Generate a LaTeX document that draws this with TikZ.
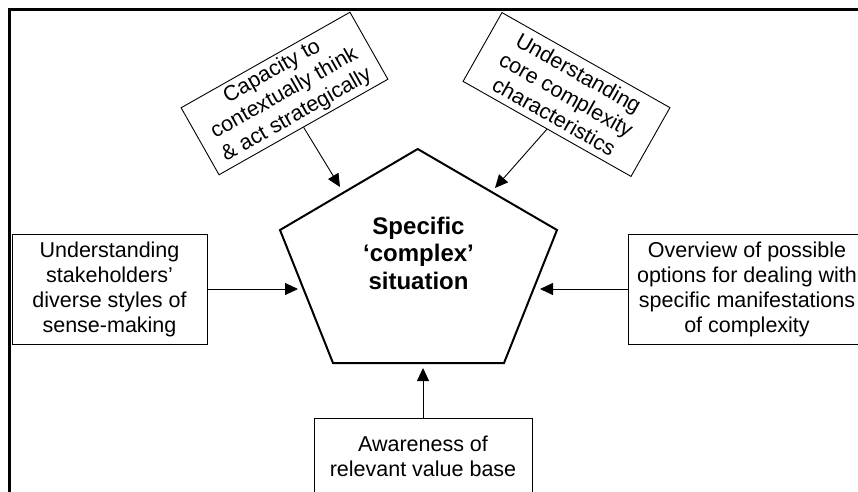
\documentclass[tikz,border=0pt]{standalone}
\usepackage{fontspec}
\setmainfont{Liberation Sans}
\usetikzlibrary{arrows.meta}
\begin{document}
\begin{tikzpicture}[x=1pt,y=-1pt,
  box/.style={draw, line width=0.9pt, align=center, inner sep=0pt,
    font=\fontsize{21.5}{25}\selectfont},
  arr/.style={line width=0.9pt, -{Triangle[length=13pt,width=12pt]}},
  pent/.style={draw, line width=2pt, line join=miter}]
\useasboundingbox (0,0) rectangle (858,491);
\clip (0,0) rectangle (858,491);
% outer frame
\draw[line width=3pt] (9,520) -- (9,9) -- (880,9);
% pentagon
\coordinate (pT) at (417.7,149);
\coordinate (pL) at (280,230);
\coordinate (pR) at (557,230);
\coordinate (pBR) at (504,363);
\coordinate (pBL) at (333,363);
\draw[pent] (pT) -- (pR) -- (pBR) -- (pBL) -- (pL) -- cycle;
\node[align=center, font=\fontsize{24}{27.5}\selectfont\bfseries] (sit) at (418.5,253)
  {Specific\\‘complex’\\situation};
% boxes
\node[box, minimum width=195pt, minimum height=110pt] (lb) at (109.5,289)
  {Understanding\\stakeholders’\\diverse styles of\\sense-making};
\node[box, minimum width=238pt, minimum height=110pt] (rb) at (747,289)
  {Overview of possible\\options for dealing with\\specific manifestations\\of complexity};
\node[box, minimum width=218pt, minimum height=76pt] (bb) at (423,456)
  {Awareness of\\relevant value base};
\node[box, minimum width=194pt, minimum height=77pt, rotate=29.5] (tl) at (284.5,93.5)
  {Capacity to\\contextually think\\\& act strategically};
\node[box, minimum width=193pt, minimum height=79pt, rotate=-29.5] (tr) at (566.5,94.5)
  {Understanding\\core complexity\\characteristics};
% arrow tips
\coordinate (tL) at (298,289);
\coordinate (tR) at (540,289);
\coordinate (tB) at (423,368);
\coordinate (tTL) at (340,187);
\coordinate (tTR) at (495,188);
\draw[arr] (lb.east) -- (tL);
\draw[arr] (rb.west) -- (tR);
\draw[arr] (bb.north) -- (tB);
\draw[arr] (tl.south) -- (tTL);
\draw[arr] (tr.south) -- (tTR);
\end{tikzpicture}
\end{document}
